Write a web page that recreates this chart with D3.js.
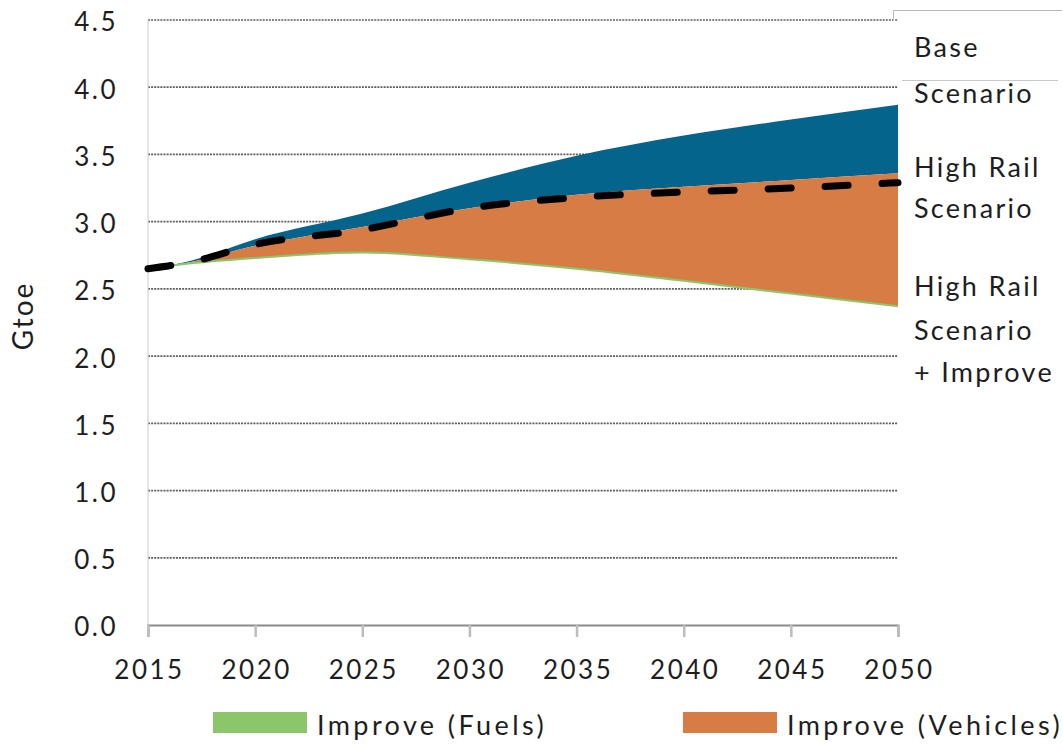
<!DOCTYPE html>
<html>
<head>
<meta charset="utf-8">
<script src="https://cdn.jsdelivr.net/npm/d3@7"></script>
<style>
  html, body { margin: 0; padding: 0; background: #fff; }
  svg { display: block; }
  text { font-family: Lato, "Open Sans", sans-serif; fill: #1e1e1e; }
</style>
</head>
<body>
<svg id="chart" width="1063" height="744"></svg>
<script>
// Transport energy demand, Gtoe
const years        = [2015, 2017, 2020, 2025, 2030, 2035, 2040, 2045, 2050];
const baseScenario = [2.65, 2.71, 2.87, 3.06, 3.29, 3.49, 3.64, 3.76, 3.87];
const highRail     = [2.65, 2.70, 2.82, 2.96, 3.10, 3.20, 3.26, 3.31, 3.36];
const highRailLine = [2.65, 2.70, 2.83, 2.94, 3.10, 3.18, 3.22, 3.25, 3.29];
const railImprove  = [2.65, 2.69, 2.73, 2.77, 2.72, 2.65, 2.56, 2.465, 2.37];

const yTicks = [0, 0.5, 1, 1.5, 2, 2.5, 3, 3.5, 4, 4.5];
const xTicks = [2015, 2020, 2025, 2030, 2035, 2040, 2045, 2050];
const sideLabels = [
  { lines: ["Base", "Scenario"], y: [57, 103] },
  { lines: ["High Rail", "Scenario"], y: [177, 218] },
  { lines: ["High Rail", "Scenario", "+ Improve"], y: [296, 340, 382] }
];
const legendItems = [
  { label: "Improve (Fuels)", color: "#8cc66a" },
  { label: "Improve (Vehicles)", color: "#d87c46" }
];

const colors = { base: "#05648b", vehicles: "#d87c46", fuels: "#8cc66a" };

const svg = d3.select("#chart");
const x = d3.scaleLinear().domain([2015, 2050]).range([148, 898]);
const y = d3.scaleLinear().domain([0, 4.5]).range([625, 20]);

const rows = years.map((yr, i) => ({
  yr, base: baseScenario[i], rail: highRail[i], dash: highRailLine[i], imp: railImprove[i]
}));
const curve = d3.curveMonotoneX;

// dotted horizontal gridlines
svg.append("g").selectAll("line")
  .data(yTicks.filter(d => d > 0))
  .join("line")
  .attr("x1", x(2015)).attr("x2", x(2050))
  .attr("y1", d => y(d)).attr("y2", d => y(d))
  .attr("stroke", "#5e5e5e").attr("stroke-width", 1.7)
  .attr("stroke-dasharray", "2,1.1");

// value axis line
svg.append("line")
  .attr("x1", x(2015)).attr("x2", x(2015))
  .attr("y1", y(4.5)).attr("y2", y(0))
  .attr("stroke", "#d4d4d4").attr("stroke-width", 1.2);

// stacked bands: base above high-rail, vehicles between high-rail and improved
svg.append("path").datum(rows)
  .attr("fill", colors.base)
  .attr("d", d3.area().x(d => x(d.yr)).y0(d => y(d.rail)).y1(d => y(d.base)).curve(curve));
svg.append("path").datum(rows)
  .attr("fill", colors.vehicles)
  .attr("d", d3.area().x(d => x(d.yr)).y0(d => y(d.imp)).y1(d => y(d.rail)).curve(curve));
svg.append("path").datum(rows)
  .attr("fill", "none").attr("stroke", colors.fuels).attr("stroke-width", 2)
  .attr("d", d3.line().x(d => x(d.yr)).y(d => y(d.imp)).curve(curve));

// high rail scenario dashed line
svg.append("path").datum(rows)
  .attr("fill", "none").attr("stroke", "#000").attr("stroke-width", 7)
  .attr("stroke-linecap", "round").attr("stroke-dasharray", "23,34")
  .attr("d", d3.line().x(d => x(d.yr)).y(d => y(d.dash)).curve(curve));

// year axis
const xAxis = svg.append("g").attr("transform", `translate(0,${y(0)})`)
  .call(d3.axisBottom(x).tickValues(xTicks).tickFormat(d3.format("d")).tickSize(12).tickPadding(24));
xAxis.select(".domain").attr("stroke", "#8a8a8a").attr("stroke-width", 2);
xAxis.selectAll(".tick line").attr("stroke", "#bdbdbd").attr("stroke-width", 2.5);
xAxis.selectAll(".tick text")
  .attr("font-size", 26).attr("letter-spacing", "2.5px").attr("fill", "#1e1e1e")
  .attr("font-family", "Lato, 'Open Sans', sans-serif").attr("dx", "1px");

// value labels
const yAxis = svg.append("g").attr("transform", `translate(${x(2015)},0)`)
  .call(d3.axisLeft(y).tickValues(yTicks).tickFormat(d3.format(".1f")).tickSize(0).tickPadding(30));
yAxis.select(".domain").remove();
yAxis.selectAll(".tick text")
  .attr("font-size", 26).attr("letter-spacing", "2.5px").attr("fill", "#1e1e1e")
  .attr("font-family", "Lato, 'Open Sans', sans-serif").attr("dy", "0.42em");

svg.append("text")
  .attr("transform", "translate(33,316) rotate(-90)")
  .attr("text-anchor", "middle")
  .attr("font-size", 28).attr("letter-spacing", "2px")
  .text("Gtoe");

// scenario labels at the right edge
const side = svg.append("g");
sideLabels.forEach(s => {
  s.lines.forEach((t, i) => {
    side.append("text")
      .attr("x", 914).attr("y", s.y[i])
      .attr("font-size", 27).attr("letter-spacing", "2.3px")
      .text(t);
  });
});

// boxed frame over the top label
svg.append("path")
  .attr("d", "M893.5,21 V10.5 H1062")
  .attr("fill", "none").attr("stroke", "#b8b8b8").attr("stroke-width", 1);
svg.append("line")
  .attr("x1", 902).attr("x2", 1058).attr("y1", 80.5).attr("y2", 80.5)
  .attr("stroke", "#c8c8c8").attr("stroke-width", 1);

// legend
const legendX = [213, 683];
const legend = svg.append("g");
legendItems.forEach((d, i) => {
  legend.append("rect")
    .attr("x", legendX[i]).attr("y", 712).attr("width", 94).attr("height", 21)
    .attr("fill", d.color);
  legend.append("text")
    .attr("x", legendX[i] + 104).attr("y", 735)
    .attr("font-size", 27).attr("letter-spacing", "3.4px")
    .text(d.label);
});
</script>
</body>
</html>
